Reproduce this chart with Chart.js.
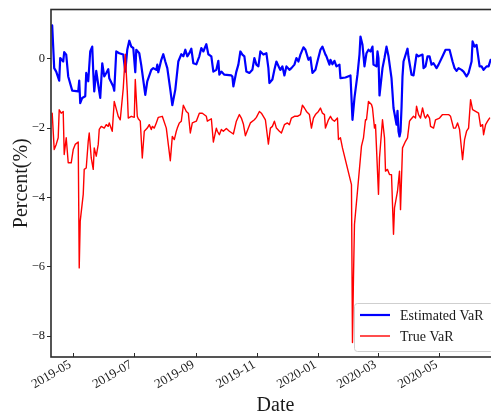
<!DOCTYPE html>
<html>
<head>
<meta charset="utf-8">
<script src="https://cdn.jsdelivr.net/npm/chart.js@4.4.1/dist/chart.umd.min.js"></script>
<style>
  html, body { margin: 0; padding: 0; background: #fff; overflow: hidden; }
  #wrap { position: absolute; left: 0; top: 0; width: 500px; height: 416px; }
</style>
</head>
<body>
<div id="wrap"><canvas id="chart" width="500" height="416"></canvas></div>
<script>
// x values are days counted from 2019-05-01
const estDays = [-21,-19,-17,-14,-13,-10,-9,-7,-5,-1,5,6,7,9,12,13,15,17,19,20,21,23,25,27,29,31,33,35,36,40,41,43,46,50,52,54,56,58,60,62,63,66,68,72,74,78,80,83,84,85,88,90,92,94,97,99,102,105,108,110,112,114,116,118,120,123,126,128,130,133,135,138,140,143,145,146,148,151,158,159,160,163,165,167,169,171,173,176,179,181,183,185,187,190,193,195,196,199,201,203,206,207,209,211,213,216,218,221,223,225,227,230,232,235,237,239,242,244,247,249,252,253,256,257,259,261,263,266,267,272,277,279,281,284,286,287,289,291,293,295,297,299,300,303,304,305,306,309,311,313,315,318,320,323,324,325,326,327,328,329,330,334,335,338,340,343,345,349,350,352,354,356,358,360,363,365,369,372,376,379,381,383,385,388,390,393,395,398,399,401,403,406,408,410,413,415,417];
const estVaR = [0.96,-0.27,-0.37,-0.63,0.02,-0.08,0.19,0.12,-0.51,-0.92,-0.94,-0.63,-1.28,-1.13,-1.08,-0.41,-0.65,0.21,0.35,-0.37,-0.94,-0.35,-0.75,-1.13,-0.13,-0.51,-0.41,-0.30,-0.56,-0.80,-0.92,0.21,0.16,0.12,-0.37,0.26,0.52,0.35,0.31,-0.39,0.26,0.16,-0.19,-1.04,-0.65,-0.32,-0.27,-0.32,-0.17,-0.39,-0.03,0.13,-0.08,-0.27,-0.89,-1.34,-0.89,-0.08,0.13,0.07,0.26,0.07,0.16,0.29,-0.13,-0.16,0.07,0.31,0.21,0.42,0.13,0.07,-0.37,-0.32,-0.06,-0.46,-0.37,-0.46,-0.48,-0.51,-0.80,-0.37,-0.17,0.21,0.12,0.07,-0.37,-0.41,-0.32,0.02,-0.17,-0.22,0.21,0.12,0.16,-0.27,-0.70,-0.60,-0.32,-0.08,-0.27,-0.32,-0.22,-0.48,-0.22,-0.32,-0.27,-0.17,0.02,-0.08,0.12,0.33,0.26,-0.03,0.04,-0.41,-0.32,-0.08,0.26,0.35,0.12,0.07,-0.17,-0.03,-0.16,-0.06,-0.22,-0.17,-0.56,-0.54,-0.48,-1.76,-1.13,-0.46,0.12,0.64,0.40,-0.22,0.16,0.26,0.21,0.35,-0.17,-0.22,0.21,0.02,-1.06,-0.27,0.02,0.35,0.07,-0.56,-1.42,-1.90,-1.50,-2.10,-2.24,-2.10,-1.42,-0.50,-0.08,0.29,0.05,-0.46,-0.48,0.12,0.07,0.12,-0.27,-0.22,0.07,0.07,-0.17,-0.13,-0.27,-0.17,0.07,0.26,0.26,-0.08,-0.27,-0.35,-0.27,-0.32,-0.37,-0.51,-0.41,-0.08,0.50,0.35,0.40,-0.22,-0.22,-0.32,-0.22,-0.22,-0.03];

const trueDays = [-21,-19,-17,-15,-14,-12,-10,-9,-7,-5,-2,0,2,5,6,7,10,11,13,15,16,18,20,21,23,25,26,28,31,33,35,36,39,41,45,47,50,52,54,55,58,61,62,64,65,67,69,71,74,76,78,79,81,83,85,89,93,95,97,99,101,103,104,106,108,110,113,115,117,119,123,126,129,133,134,138,140,143,144,146,148,150,153,156,160,163,166,168,170,172,175,177,181,183,186,188,191,192,195,197,199,201,203,206,208,211,214,216,218,221,224,227,229,231,233,236,238,240,242,245,247,249,251,252,255,257,259,261,264,265,267,269,278,279,280,281,284,288,290,292,293,295,298,299,301,302,305,306,309,311,312,314,316,318,320,321,324,326,327,329,332,334,336,337,340,342,343,345,347,349,351,352,354,356,357,360,362,366,369,372,375,377,380,382,384,386,389,391,393,395,397,399,402,405,407,409,410,412,414,416];
const trueVaR = [-1.57,-2.62,-2.47,-2.28,-1.47,-1.57,-1.52,-2.76,-2.28,-3.00,-3.00,-2.62,-2.47,-2.40,-6.03,-4.68,-3.91,-3.19,-3.15,-2.38,-2.14,-2.86,-3.19,-2.57,-2.81,-2.47,-2.04,-1.95,-2.00,-1.90,-1.95,-1.85,-2.09,-1.23,-1.66,-1.76,-0.85,0.13,-0.94,-1.71,-1.66,-1.69,-0.60,-1.66,-1.73,-1.80,-2.86,-2.09,-2.00,-1.90,-2.04,-1.95,-2.00,-1.85,-1.69,-1.66,-2.00,-2.47,-2.94,-2.24,-2.33,-2.09,-2.00,-1.85,-1.80,-1.34,-1.52,-1.57,-2.14,-1.85,-1.80,-1.57,-1.57,-1.66,-1.80,-1.73,-2.40,-2.00,-2.09,-2.19,-2.04,-2.09,-2.01,-2.09,-2.17,-1.80,-1.61,-1.71,-1.88,-2.22,-2.00,-1.85,-1.76,-1.69,-1.52,-1.57,-1.71,-1.76,-2.46,-2.00,-1.95,-1.80,-2.00,-2.09,-2.14,-1.90,-1.85,-1.90,-1.71,-1.66,-1.66,-1.61,-1.34,-1.42,-1.52,-1.61,-2.00,-1.71,-1.61,-1.52,-1.42,-1.57,-1.61,-2.00,-1.76,-1.66,-1.76,-1.80,-1.71,-2.33,-2.28,-2.57,-3.63,-8.18,-6.31,-4.78,-3.82,-2.52,-2.28,-1.76,-1.76,-1.23,-1.32,-1.42,-2.00,-1.90,-3.91,-2.86,-1.76,-2.28,-3.24,-3.19,-3.34,-3.34,-5.06,-4.30,-3.82,-3.24,-4.35,-2.57,-2.38,-2.28,-1.80,-1.76,-1.66,-1.71,-1.37,-1.61,-1.71,-1.42,-1.66,-1.71,-1.61,-1.71,-1.95,-2.00,-1.76,-1.71,-1.61,-1.61,-1.61,-1.66,-2.00,-2.00,-1.85,-2.04,-2.91,-2.33,-2.09,-2.00,-1.18,-1.47,-1.52,-1.57,-1.95,-1.90,-2.19,-1.90,-1.80,-1.71];

const tickDays = [0, 61, 123, 184, 245, 305, 366];
const tickLabels = ["2019-05", "2019-07", "2019-09", "2019-11", "2020-01", "2020-03", "2020-05"];
const yTicks = [-8, -6, -4, -2, 0];

const SERIF = "'Liberation Serif', 'Times New Roman', serif";
const INK = "#1a1a1a";

function toPoints(days, vals) {
  return days.map((d, i) => ({ x: d, y: vals[i] }));
}

// axes box
const frame = {
  id: "frame",
  afterDatasetsDraw(chart) {
    const { ctx, chartArea: a } = chart;
    ctx.save();
    ctx.strokeStyle = "#2b2b2b";
    ctx.lineWidth = 1.6;
    ctx.strokeRect(a.left, a.top, a.right - a.left, a.bottom - a.top);
    ctx.restore();
  }
};

// matplotlib-like legend in the lower right corner
const legendBox = {
  id: "legendBox",
  afterDraw(chart) {
    const { ctx, chartArea: a } = chart;
    const w = 139, h = 48;
    const x = a.right - 7 - w, y = a.bottom - 6 - h;
    ctx.save();
    ctx.beginPath();
    ctx.roundRect(x + 0.5, y + 0.5, w, h, 3);
    ctx.fillStyle = "rgba(255,255,255,0.85)";
    ctx.fill();
    ctx.strokeStyle = "#cfcfcf";
    ctx.lineWidth = 1;
    ctx.stroke();
    ctx.font = "14px " + SERIF;
    ctx.textBaseline = "middle";
    ctx.fillStyle = INK;
    chart.data.datasets.forEach((ds, i) => {
      const cy = y + 12 + i * 21;
      ctx.beginPath();
      ctx.moveTo(x + 6, cy);
      ctx.lineTo(x + 36, cy);
      ctx.strokeStyle = ds.borderColor;
      ctx.lineWidth = ds.borderWidth;
      ctx.stroke();
      ctx.fillText(ds.label, x + 46, cy + 1);
    });
    ctx.restore();
  }
};

new Chart(document.getElementById("chart"), {
  type: "line",
  data: {
    datasets: [
      { label: "Estimated VaR", data: toPoints(estDays, estVaR), borderColor: "#0000ff", borderWidth: 2.2, order: 1 },
      { label: "True VaR", data: toPoints(trueDays, trueVaR), borderColor: "#ff0000", borderWidth: 1.4, order: 0 }
    ]
  },
  options: {
    responsive: false,
    animation: false,
    events: [],
    layout: { padding: { top: 8, left: 0, right: 0, bottom: 0 } },
    elements: {
      point: { radius: 0 },
      line: { tension: 0, borderJoinStyle: "round", borderCapStyle: "round" }
    },
    scales: {
      x: {
        type: "linear",
        min: -22.2,
        max: 426.4,
        afterBuildTicks: s => { s.ticks = tickDays.map(v => ({ value: v })); },
        afterFit: s => { s.height = 59; },
        border: { display: false },
        grid: { drawOnChartArea: false, tickLength: -4, color: "#2b2b2b", lineWidth: 1 },
        ticks: {
          autoSkip: false, minRotation: 30, maxRotation: 30, padding: 4, labelOffset: -3,
          color: INK, font: { family: SERIF, size: 13 },
          callback: (v, i) => tickLabels[i]
        },
        title: { display: true, text: "Date", color: INK, font: { family: SERIF, size: 20, lineHeight: 1 }, padding: { top: 0, bottom: 0 } }
      },
      y: {
        min: -8.6,
        max: 1.42,
        afterBuildTicks: s => { s.ticks = yTicks.map(v => ({ value: v })); },
        afterFit: s => { s.width = 51; },
        border: { display: false },
        grid: { drawOnChartArea: false, tickLength: 4, color: "#2b2b2b", lineWidth: 1 },
        ticks: {
          padding: 2, color: INK, font: { family: SERIF, size: 12.5 },
          callback: v => String(v).replace("-", "\u2212")
        },
        title: { display: true, text: "Percent(%)", color: INK, font: { family: SERIF, size: 20 }, padding: { top: 10, bottom: 0 } }
      }
    },
    plugins: {
      legend: { display: false },
      tooltip: { enabled: false }
    }
  },
  plugins: [frame, legendBox]
});
</script>
</body>
</html>
